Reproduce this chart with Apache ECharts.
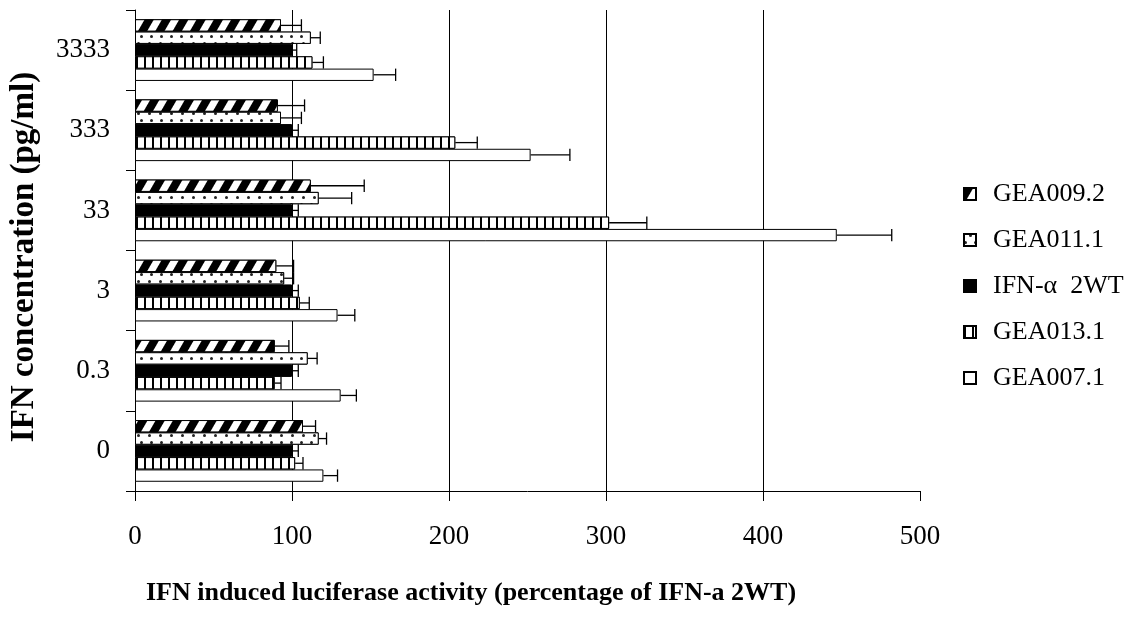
<!DOCTYPE html>
<html>
<head>
<meta charset="utf-8">
<script src="https://cdn.jsdelivr.net/npm/echarts@6/dist/echarts.min.js"></script>
<style>
html,body{margin:0;padding:0;background:#fff;}
#chart{width:1141px;height:623px;}
</style>
</head>
<body>
<div id="chart"></div>
<script>
// ---- data ----
var categories = ['0', '0.3', '3', '33', '333', '3333'];
var seriesNames = ['GEA009.2', 'GEA011.1', 'IFN-\u03b1  2WT', 'GEA013.1', 'GEA007.1'];
var gea0092 = [107, 89, 90, 112, 91, 93];
var gea0092Err = [8, 9, 11, 34, 17, 13];
var gea0111 = [117, 110, 95, 117, 93, 112];
var gea0111Err = [5, 6, 6, 21, 13, 6];
var ifnWT = [100, 100, 100, 100, 100, 100];
var ifnWTErr = [4, 4, 4, 4, 4, 3];
var gea0131 = [102, 89, 105, 302, 204, 113];
var gea0131Err = [5, 4, 6, 24, 14, 7];
var gea0071 = [120, 131, 129, 447, 252, 152];
var gea0071Err = [9, 10, 11, 35, 25, 14];
var xTicks = [0, 100, 200, 300, 400, 500];

var values = [gea0092, gea0111, ifnWT, gea0131, gea0071];
var errors = [gea0092Err, gea0111Err, ifnWTErr, gea0131Err, gea0071Err];

var FONT = 'Liberation Serif';
var CAT_GAP = 0.23;

var decals = [
  { symbol: 'rect', symbolSize: 1, dashArrayX: [1, 0], dashArrayY: [8, 7], rotation: -Math.PI / 3, color: '#000', backgroundColor: '#fff' },
  { symbol: 'circle', symbolSize: 1, dashArrayX: [[2.4, 6.6], [0, 4.5, 2.4, 2.1]], dashArrayY: [2.4, 3.2], color: '#222', backgroundColor: '#fff' },
  null,
  { symbol: 'rect', symbolSize: 1, dashArrayX: [2, 5.8], dashArrayY: [1, 0], color: '#000', backgroundColor: '#fff' },
  null
];
var fills = ['#fff', '#fff', '#000', '#fff', '#fff'];

var series = [];
seriesNames.forEach(function (name, k) {
  var st = { color: fills[k], borderColor: '#000', borderWidth: 1 };
  if (decals[k]) st.decal = decals[k];
  series.push({
    name: name,
    type: 'bar',
    data: values[k],
    barGap: '0%',
    barCategoryGap: (CAT_GAP * 100) + '%',
    itemStyle: st,
    emphasis: { disabled: true },
    animation: false
  });
});

seriesNames.forEach(function (name, k) {
  var d = values[k].map(function (v, i) { return [v, i, errors[k][i]]; });
  series.push({
    name: 'err' + k,
    type: 'custom',
    data: d,
    encode: { x: 0, y: 1 },
    z: 5,
    animation: false,
    renderItem: function (params, api) {
      var v = api.value(0), ci = api.value(1), e = api.value(2);
      var p0 = api.coord([v, ci]);
      var p1 = api.coord([v + e, ci]);
      var band = api.size([0, 1])[1];
      var total = band * (1 - CAT_GAP);
      var bw = total / 5;
      var y = p0[1] - total / 2 + k * bw + bw / 2;
      var half = bw / 2;
      return {
        type: 'group',
        children: [
          { type: 'line', shape: { x1: p0[0], y1: y, x2: p1[0], y2: y }, style: { stroke: '#000', lineWidth: 1.3 } },
          { type: 'line', shape: { x1: p1[0], y1: y - half, x2: p1[0], y2: y + half }, style: { stroke: '#000', lineWidth: 1.3 } }
        ]
      };
    }
  });
});

var chart = echarts.init(document.getElementById('chart'), null, { renderer: 'canvas' });
chart.setOption({
  backgroundColor: '#fff',
  animation: false,
  textStyle: { fontFamily: FONT, color: '#000' },
  grid: { left: 135, right: 221, top: 10, bottom: 132, containLabel: false },
  legend: {
    data: seriesNames,
    orient: 'vertical',
    left: 958,
    top: 176,
    icon: 'rect',
    itemWidth: 12,
    itemHeight: 12,
    itemGap: 20,
    selectedMode: false,
    textStyle: { fontFamily: FONT, fontSize: 26, color: '#000', lineHeight: 26, padding: [0, 0, 0, 12] }
  },
  xAxis: {
    type: 'value',
    min: xTicks[0],
    max: xTicks[xTicks.length - 1],
    interval: 100,
    axisLine: { show: true, lineStyle: { color: '#000', width: 1 } },
    axisTick: { show: true, inside: false, length: 10, lineStyle: { color: '#000' } },
    axisLabel: { fontFamily: FONT, fontSize: 27, color: '#000', margin: 32 },
    splitLine: { show: true, showMaxLine: false, lineStyle: { color: '#000', width: 1 } }
  },
  yAxis: {
    type: 'category',
    data: categories,
    axisLine: { show: true, lineStyle: { color: '#000', width: 1 } },
    axisTick: { show: true, inside: false, length: 9, alignWithLabel: false, lineStyle: { color: '#000' } },
    axisLabel: { fontFamily: FONT, fontSize: 27, color: '#000', margin: 25 },
    splitLine: { show: false }
  },
  graphic: [
    {
      type: 'text',
      x: 24, y: 257,
      rotation: Math.PI / 2,
      style: { text: 'IFN concentration (pg/ml)', font: 'bold 33px "Liberation Serif"', fill: '#000', textAlign: 'center', textVerticalAlign: 'middle' }
    },
    {
      type: 'text',
      x: 471, y: 593,
      style: { text: 'IFN induced luciferase activity (percentage of IFN-a 2WT)', font: 'bold 26px "Liberation Serif"', fill: '#000', textAlign: 'center', textVerticalAlign: 'middle' }
    }
  ],
  series: series
});
</script>
</body>
</html>
